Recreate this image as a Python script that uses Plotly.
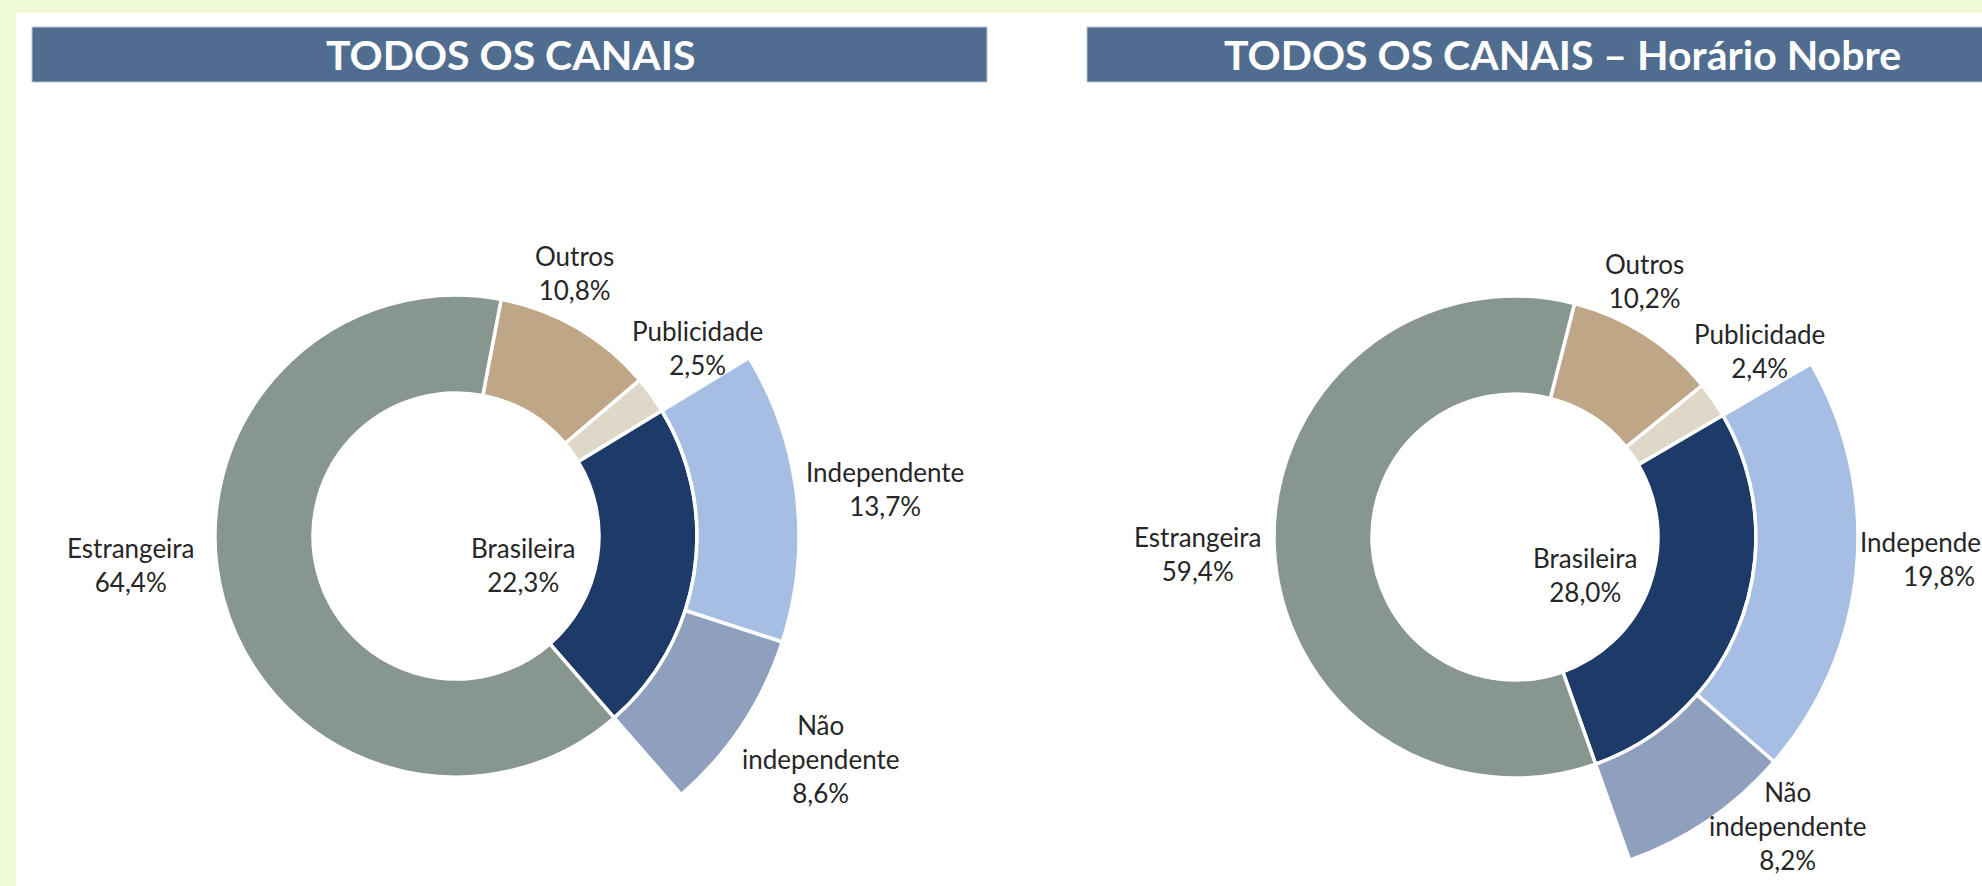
import math
import plotly.graph_objects as go

# ---------------- data ----------------
titles = ["TODOS OS CANAIS", "TODOS OS CANAIS – Horário Nobre"]
inner_labels = ["Outros", "Publicidade", "Brasileira", "Estrangeira"]
inner_left = [10.8, 2.5, 22.3, 64.4]
inner_right = [10.2, 2.4, 28.0, 59.4]
outer_labels = ["Independente", "Não independente"]
outer_left = [13.7, 8.6]
outer_right = [19.8, 8.2]
label_text = {"Não independente": "Não<br>independente"}

# ---------------- style ----------------
W, H = 1982, 886
BG = "#F1FAD8"
BAR = "#506D8F"
TXT = "#262626"
FONT = "Lato"
inner_colors = {"Outros": "#BEA687", "Publicidade": "#DDD8C8",
                "Brasileira": "#1E3A68", "Estrangeira": "#889690"}
outer_colors = {"Independente": "#A6BEE4", "Não independente": "#8EA0BE"}
R_OUT, R_MID, R_HOLE = 343, 241, 143
LINE_W = 3.5
LABEL_SIZE = 26
TITLE_SIZE = 41

charts = [
    dict(values=inner_left, sub=outer_left, cx=456, cy=536, rot=10.8,
         bar=(32, 987), title_x=510,
         lab={"Outros": (-6, 288), "Publicidade": (-2, 306), "Brasileira": (15, 73),
              "Independente": (0.4, 432), "Não independente": (-2, 427),
              "Estrangeira": (10, 326)}),
    dict(values=inner_right, sub=outer_right, cx=1515, cy=537, rot=14.3,
         bar=(1087, 1995), title_x=1562,
         lab={"Outros": (-5.8, 287), "Publicidade": (-2.6, 307), "Brasileira": (8.5, 80),
              "Independente": (-2.4, 425), "Não independente": (-9, 397),
              "Estrangeira": (-0.5, 317)}),
]


def fx(x):
    return x / W


def fy(y):
    return 1 - y / H


def fmt(v):
    return f"{v:.1f}".replace(".", ",") + "%"


fig = go.Figure()
shapes = [dict(type="rect", xref="paper", yref="paper", x0=fx(16), x1=1.02, y0=-0.02, y1=fy(13),
               fillcolor="white", line=dict(width=0), layer="below")]
annotations = []

for ch, title in zip(charts, titles):
    cx, cy = ch["cx"], ch["cy"]
    vals = ch["values"]
    sub = ch["sub"]
    # inner ring
    fig.add_trace(go.Pie(
        values=vals, labels=inner_labels, sort=False, direction="clockwise",
        rotation=ch["rot"], hole=R_HOLE / R_MID, textinfo="none", showlegend=False,
        marker=dict(colors=[inner_colors[l] for l in inner_labels],
                    line=dict(color="white", width=LINE_W)),
        domain=dict(x=[fx(cx - R_MID), fx(cx + R_MID)], y=[fy(cy + R_MID), fy(cy - R_MID)]),
    ))
    # outer ring: only the Brasileira breakdown, rest transparent
    total = sum(vals)
    before = sum(vals[:inner_labels.index("Brasileira")])
    rot_outer = ch["rot"] + before / total * 360
    rest = total - sum(sub)
    fig.add_trace(go.Pie(
        values=sub + [rest], labels=outer_labels + [""], sort=False, direction="clockwise",
        rotation=rot_outer, hole=R_MID / R_OUT, textinfo="none", showlegend=False,
        hoverinfo="skip",
        marker=dict(colors=[outer_colors[l] for l in outer_labels] + ["rgba(0,0,0,0)"],
                    line=dict(color="white", width=[LINE_W, LINE_W, 0])),
        domain=dict(x=[fx(cx - R_OUT), fx(cx + R_OUT)], y=[fy(cy + R_OUT), fy(cy - R_OUT)]),
    ))

    # labels positioned from slice mid-angles
    def place(name, value, mid):
        dang, dist = ch["lab"][name]
        a = math.radians(mid + dang)
        x = cx + dist * math.sin(a)
        y = cy - dist * math.cos(a)
        annotations.append(dict(
            x=fx(x), y=fy(y), xref="paper", yref="paper", xanchor="center", yanchor="middle",
            text=f"{label_text.get(name, name)}<br>{fmt(value)}", showarrow=False,
            align="center", font=dict(family=FONT, size=LABEL_SIZE, color=TXT)))

    acc = 0
    for name, v in zip(inner_labels, vals):
        mid = ch["rot"] + (acc + v / 2) / total * 360
        acc += v
        place(name, v, mid)
    acc = 0
    for name, v in zip(outer_labels, sub):
        mid = rot_outer + (acc + v / 2) / total * 360
        acc += v
        place(name, v, mid)

    # title bar
    b0, b1 = ch["bar"]
    shapes.append(dict(type="rect", xref="paper", yref="paper", x0=fx(b0), x1=fx(b1),
                       y0=fy(82), y1=fy(27), fillcolor=BAR,
                       line=dict(color="#B8C4D4", width=1)))
    annotations.append(dict(x=fx(ch["title_x"]), y=fy(55), xref="paper", yref="paper",
                            xanchor="center", yanchor="middle", text=f"<b>{title}</b>",
                            showarrow=False, font=dict(family=FONT, size=TITLE_SIZE, color="white")))

fig.update_layout(width=W, height=H, margin=dict(l=0, r=0, t=0, b=0),
                  paper_bgcolor=BG, plot_bgcolor=BG, shapes=shapes,
                  annotations=annotations)
fig.write_html("out.html", config={"displayModeBar": False},
               post_script="document.body.style.margin='0';document.body.style.overflow='hidden';")
